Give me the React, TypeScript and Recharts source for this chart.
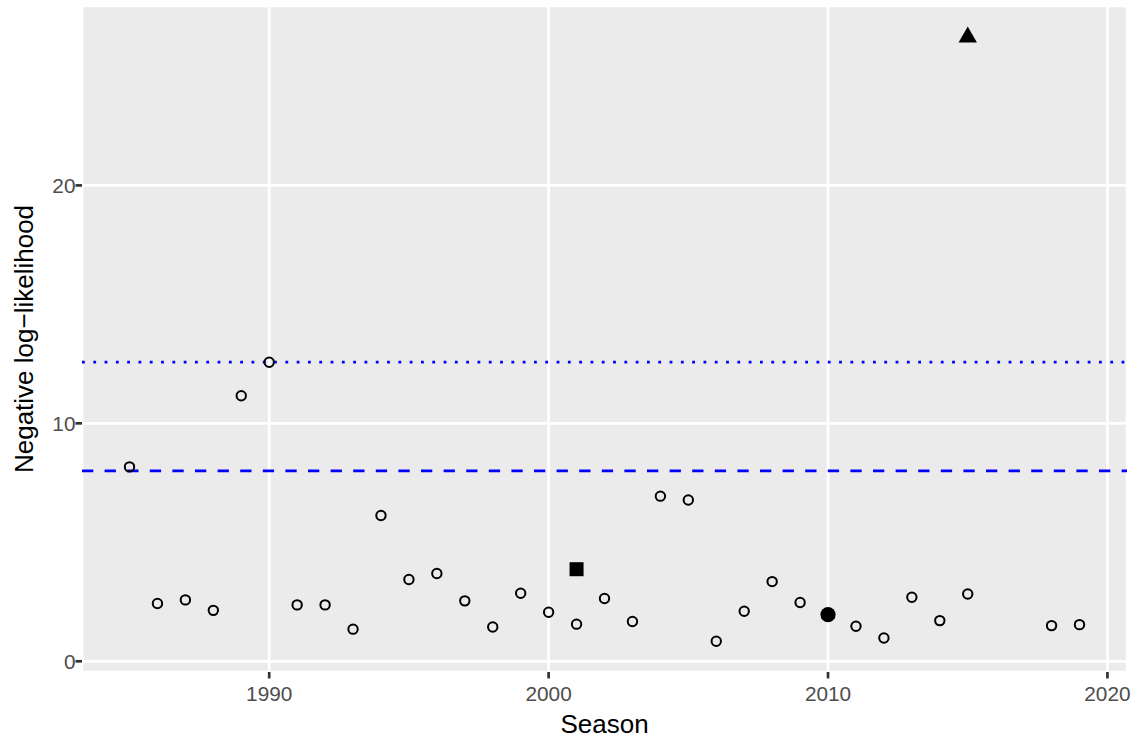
import { ScatterChart, Scatter, XAxis, YAxis, CartesianGrid, ReferenceLine, Label } from 'recharts';

// seasons shown as open circles
const seasons = [
  1985, 1986, 1987, 1988, 1989, 1990, 1991, 1992, 1993, 1994, 1995, 1996, 1997, 1998, 1999, 2000,
  2001, 2002, 2003, 2004, 2005, 2006, 2007, 2008, 2009, 2011, 2012, 2013, 2014, 2015, 2018, 2019,
];
const nll = [
  8.17, 2.43, 2.58, 2.14, 11.16, 12.57, 2.37, 2.37, 1.35, 6.13, 3.44, 3.69, 2.54, 1.44, 2.86, 2.06,
  1.56, 2.64, 1.67, 6.94, 6.78, 0.84, 2.1, 3.35, 2.47, 1.47, 0.98, 2.69, 1.71, 2.83, 1.5, 1.54,
];

// highlighted seasons
const squareSeason = [2001];
const squareNll = [3.87];
const filledSeason = [2010];
const filledNll = [1.96];
const triangleSeason = [2015];
const triangleNll = [26.23];

const xTicks = [1990, 2000, 2010, 2020];
const yTicks = [0, 10, 20];
const dottedLevel = 12.57;
const dashedLevel = 8.0;

const toRows = (xs: number[], ys: number[]) => xs.map((x, i) => ({ season: x, nll: ys[i] }));

const openData = toRows(seasons, nll);
const squareData = toRows(squareSeason, squareNll);
const filledData = toRows(filledSeason, filledNll);
const triangleData = toRows(triangleSeason, triangleNll);

const FONT = '"Liberation Sans", Arial, Helvetica, sans-serif';
const TICK_FONT = 20.8;
const TITLE_FONT = 26;

const OpenCircle = (p: any) => (
  <circle cx={p.cx} cy={p.cy} r={4.7} fill="none" stroke="#000" strokeWidth={2} />
);
const FilledCircle = (p: any) => <circle cx={p.cx} cy={p.cy} r={7.6} fill="#000" />;
const Square = (p: any) => <rect x={p.cx - 7} y={p.cy - 7} width={14} height={14} fill="#000" />;
const Triangle = (p: any) => {
  const r = 10.6;
  const xc = (r * Math.sqrt(3)) / 2;
  const pts = `${p.cx},${p.cy - r} ${p.cx + xc},${p.cy + r / 2} ${p.cx - xc},${p.cy + r / 2}`;
  return <polygon points={pts} fill="#000" />;
};

const XTick = (p: any) => (
  <text x={p.x} y={p.y + 22.2} textAnchor="middle" fill="#4D4D4D" fontSize={TICK_FONT} fontFamily={FONT}>
    {p.payload.value}
  </text>
);
const YTick = (p: any) => (
  <text x={p.x} y={p.y + 7.4} textAnchor="end" fill="#4D4D4D" fontSize={TICK_FONT} fontFamily={FONT}>
    {p.payload.value}
  </text>
);

export default function App() {
  return (
    <div style={{ position: 'absolute', left: 0, top: 0, background: '#fff' }}>
      <ScatterChart width={1140} height={742} margin={{ top: 6, right: 13, bottom: 0, left: 0 }}>
        <CartesianGrid fill="#EBEBEB" stroke="#FFFFFF" strokeWidth={2.7} />
        <XAxis
          type="number"
          dataKey="season"
          domain={[1983.3, 2020.7]}
          ticks={xTicks}
          allowDataOverflow
          height={70}
          axisLine={false}
          tickSize={6.5}
          tickMargin={0}
          tickLine={{ stroke: '#333333', strokeWidth: 2.7 }}
          tick={<XTick />}
        >
          <Label
            content={(props: any) => {
              const vb = props.viewBox;
              return (
                <text x={vb.x + vb.width / 2} y={vb.y + 61} textAnchor="middle" fill="#000" fontSize={TITLE_FONT} fontFamily={FONT}>
                  Season
                </text>
              );
            }}
          />
        </XAxis>
        <YAxis
          type="number"
          dataKey="nll"
          domain={[-0.45, 27.54]}
          ticks={yTicks}
          allowDataOverflow
          width={82}
          axisLine={false}
          tickSize={6.5}
          tickMargin={0}
          tickLine={{ stroke: '#333333', strokeWidth: 2.7 }}
          tick={<YTick />}
        >
          <Label
            content={(props: any) => {
              const vb = props.viewBox;
              const cy = vb.y + vb.height / 2;
              return (
                <text x={33} y={cy} transform={`rotate(-90, 33, ${cy})`} textAnchor="middle" fill="#000" fontSize={TITLE_FONT} fontFamily={FONT}>
                  Negative log−likelihood
                </text>
              );
            }}
          />
        </YAxis>
        <Scatter data={openData} shape={<OpenCircle />} isAnimationActive={false} />
        <Scatter data={squareData} shape={<Square />} isAnimationActive={false} />
        <Scatter data={filledData} shape={<FilledCircle />} isAnimationActive={false} />
        <Scatter data={triangleData} shape={<Triangle />} isAnimationActive={false} />
        <ReferenceLine y={dottedLevel} stroke="#0000FF" strokeWidth={2.8} strokeDasharray="2.8 8.5" />
        <ReferenceLine y={dashedLevel} stroke="#0000FF" strokeWidth={2.8} strokeDasharray="11.3 11.3" />
      </ScatterChart>
    </div>
  );
}
